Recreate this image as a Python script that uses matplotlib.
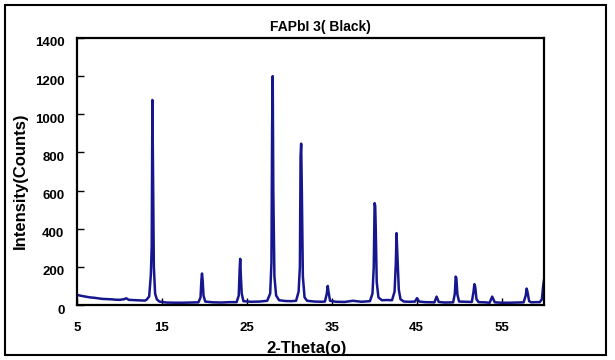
import matplotlib
matplotlib.use("Agg")
import matplotlib.pyplot as plt
from matplotlib.patches import Rectangle
from matplotlib.transforms import ScaledTranslation

# 2-theta (deg) and intensity (counts)
two_theta = [5.0, 5.5, 6.0, 6.5, 7.0, 7.5, 8.0, 8.5, 9.0, 9.5, 10.0, 10.5, 10.8, 11.1,
             11.5, 12.0, 12.5, 13.0, 13.2, 13.5, 13.7, 13.8, 13.88, 13.95, 14.05, 14.2,
             14.4, 14.7, 15.5, 16.5, 17.5, 18.5, 19.3, 19.55, 19.65, 19.72, 19.8, 19.9,
             20.1, 21.0, 22.0, 23.0, 23.8, 24.05, 24.15, 24.22, 24.3, 24.4, 24.6, 25.5,
             26.5, 27.0, 27.4, 27.75, 27.9, 27.98, 28.05, 28.12, 28.25, 28.45, 28.8,
             29.5, 30.2, 30.8, 31.1, 31.25, 31.33, 31.4, 31.48, 31.6, 31.8, 32.1, 33.0,
             33.8, 34.2, 34.42, 34.53, 34.62, 34.8, 35.5, 36.5, 37.5, 38.5, 39.5, 39.8,
             39.95, 40.05, 40.12, 40.18, 40.3, 40.5, 40.9, 41.5, 42.1, 42.4, 42.55, 42.63,
             42.7, 42.78, 42.9, 43.1, 43.5, 44.2, 44.8, 45.05, 45.3, 46.0, 46.7, 47.1,
             47.35, 47.6, 48.3, 49.3, 49.5, 49.6, 49.68, 49.8, 50.0, 50.8, 51.5, 51.7,
             51.8, 51.9, 52.05, 52.3, 53.0, 53.6, 53.9, 54.2, 55.0, 56.0, 57.0, 57.6,
             57.85, 57.95, 58.05, 58.25, 58.5, 59.0, 59.5, 59.75, 59.9, 60.0]
counts = [53, 48, 44, 40, 38, 35, 32, 31, 30, 28, 27, 30, 35, 27,
          26, 25, 24, 23, 28, 45, 160, 310, 1075, 700, 200, 60,
          30, 18, 13, 12, 12, 13, 14, 40, 130, 165, 130, 50,
          18, 14, 13, 15, 15, 50, 180, 242, 150, 60, 20, 17,
          18, 20, 22, 60, 220, 930, 1200, 600, 150, 50, 25,
          21, 20, 22, 70, 200, 780, 846, 600, 150, 40, 22, 18,
          17, 18, 60, 100, 70, 22, 17, 16, 22, 17, 20, 60,
          200, 534, 520, 411, 120, 40, 25, 26, 25, 70, 220, 377,
          300, 219, 80, 30, 18, 17, 18, 36, 18, 15, 14, 14,
          44, 16, 13, 14, 60, 149, 140, 55, 18, 17, 16, 70,
          109, 95, 30, 15, 14, 12, 44, 14, 12, 12, 13, 14,
          50, 86, 70, 20, 14, 15, 15, 30, 100, 131]

x_ticks = [5, 15, 25, 35, 45, 55]
y_ticks = [0, 200, 400, 600, 800, 1000, 1200, 1400]

plt.rcParams['font.family'] = ['Liberation Sans', 'DejaVu Sans']
plt.rcParams['font.weight'] = 'bold'
plt.rcParams['font.size'] = 9.5

fig = plt.figure(figsize=(6.15, 3.6), dpi=100)
ax = fig.add_axes([77 / 615, 55 / 360, 467 / 615, 267 / 360])

ax.plot(two_theta, counts, color='#16168e', lw=1.8)
ax.set_xlim(5, 60)
ax.set_ylim(0, 1400)
ax.set_xticks(x_ticks)
ax.set_yticks(y_ticks)
ax.tick_params(direction='in', length=5, width=1, top=False, right=False)
ax.tick_params(axis='y', pad=9)
ax.tick_params(axis='x', pad=12)
for s in ax.spines.values():
    s.set_linewidth(1.6)

# Excel-style: y labels sit a little below their tick
off = ScaledTranslation(0, -0.04, fig.dpi_scale_trans)
for lab in ax.get_yticklabels():
    lab.set_transform(lab.get_transform() + off)

fig.text(320 / 615, 1 - 27 / 360, 'FAPbI 3( Black)', ha='center', va='center', fontsize=10)
fig.text(20 / 615, 1 - 181 / 360, 'Intensity(Counts)', ha='center', va='center',
         rotation=90, fontsize=12)
fig.text(307 / 615, 1 - 349 / 360, '2-Theta(o)', ha='center', va='center', fontsize=12)

fig.patches.append(Rectangle((5 / 615, 5 / 360), 601 / 615, 350 / 360, transform=fig.transFigure,
                             fill=False, edgecolor='black', lw=1.5, zorder=10))

fig.savefig('out.png', dpi=100)
